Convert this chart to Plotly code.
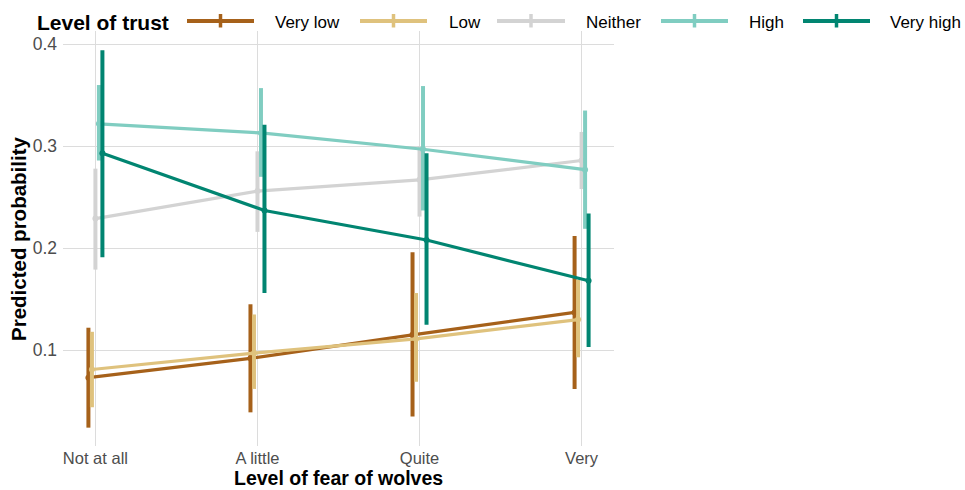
import plotly.graph_objects as go

# ---- data ----
categories = ["Not at all", "A little", "Quite", "Very"]
trust_levels = ["Very low", "Low", "Neither", "High", "Very high"]

very_low = [0.073, 0.092, 0.115, 0.137]
very_low_lo = [0.024, 0.039, 0.035, 0.062]
very_low_hi = [0.122, 0.145, 0.196, 0.212]

low = [0.081, 0.097, 0.111, 0.130]
low_lo = [0.044, 0.062, 0.069, 0.093]
low_hi = [0.118, 0.135, 0.156, 0.169]

neither = [0.229, 0.256, 0.267, 0.286]
neither_lo = [0.179, 0.216, 0.231, 0.258]
neither_hi = [0.278, 0.295, 0.300, 0.314]

high = [0.322, 0.313, 0.297, 0.277]
high_lo = [0.286, 0.270, 0.237, 0.219]
high_hi = [0.360, 0.357, 0.359, 0.335]

very_high = [0.293, 0.237, 0.208, 0.168]
very_high_lo = [0.191, 0.156, 0.125, 0.103]
very_high_hi = [0.394, 0.321, 0.293, 0.234]

y_ticks = [0.1, 0.2, 0.3, 0.4]

# ---- style ----
colors = ["#A6611A", "#DFC27D", "#D3D3D3", "#80CDC1", "#018571"]
dodge = 0.0216
FONT = "Liberation Sans, Arial, sans-serif"

series = [
    (very_low, very_low_lo, very_low_hi),
    (low, low_lo, low_hi),
    (neither, neither_lo, neither_hi),
    (high, high_lo, high_hi),
    (very_high, very_high_lo, very_high_hi),
]

fig = go.Figure()
for i, (name, (est, lo, hi)) in enumerate(zip(trust_levels, series)):
    off = (i - 2) * dodge
    xs = [k + off for k in range(len(categories))]
    fig.add_trace(go.Scatter(
        x=xs, y=est, name=name, mode="lines+markers",
        line=dict(color=colors[i], width=3.2),
        marker=dict(color=colors[i], size=6),
        error_y=dict(type="data", symmetric=False,
                     array=[h - e for h, e in zip(hi, est)],
                     arrayminus=[e - l for e, l in zip(est, lo)],
                     color=colors[i], thickness=4, width=0),
        showlegend=False,
    ))

# plot area in pixels
L, R, T, B = 63, 614, 31, 446
W, H = 965, 490


def px(x):
    return (x - L) / (R - L)


def py(y):
    return (B - y) / (B - T)


shapes = []
annotations = []
annotations.append(dict(text="<b>Level of trust</b>", x=px(35), y=py(22),
                        xref="paper", yref="paper", xanchor="left", yanchor="middle",
                        showarrow=False, font=dict(size=21, color="black", family=FONT)))
annotations.append(dict(text="<b>Level of fear of wolves</b>", x=px(338), y=py(490),
                        xref="paper", yref="paper", xanchor="center", yanchor="bottom",
                        borderpad=0,
                        showarrow=False, font=dict(size=19.5, color="black", family=FONT)))
annotations.append(dict(text="<b>Predicted probability</b>", x=px(19), y=py(239),
                        xref="paper", yref="paper", xanchor="center", yanchor="middle",
                        textangle=-90,
                        showarrow=False, font=dict(size=20.5, color="black", family=FONT)))
leg_lines = [(187, 254, 273), (360, 427, 447), (497, 565, 584), (661, 728, 747), (803, 870, 888)]
for i, (x0, x1, tx) in enumerate(leg_lines):
    shapes.append(dict(type="line", xref="paper", yref="paper",
                       x0=px(x0), x1=px(x1), y0=py(21), y1=py(21),
                       line=dict(color=colors[i], width=4)))
    xc = (x0 + x1) / 2
    shapes.append(dict(type="line", xref="paper", yref="paper",
                       x0=px(xc), x1=px(xc), y0=py(14), y1=py(27.5),
                       line=dict(color=colors[i], width=3.5)))
    annotations.append(dict(text=trust_levels[i], x=px(tx), y=py(22),
                            xref="paper", yref="paper", xanchor="left", yanchor="middle",
                            showarrow=False, font=dict(size=17, color="black", family=FONT)))

fig.update_layout(
    width=W, height=H,
    margin=dict(l=L, r=W - R, t=T, b=H - B, autoexpand=False),
    plot_bgcolor="white", paper_bgcolor="white",
    font=dict(family=FONT, color="#4D4D4D", size=17.5),
    shapes=shapes, annotations=annotations,
    xaxis=dict(range=[-0.2, 3.2], tickvals=list(range(len(categories))), ticktext=categories,
               showgrid=True, gridcolor="#DCDCDC", gridwidth=1.3, zeroline=False,
               showline=False, ticks="", ticklabelstandoff=0, automargin=False,
               tickfont=dict(size=16.5, color="#4D4D4D")),
    yaxis=dict(range=[0.006, 0.413], tickvals=y_ticks, ticktext=[str(v) for v in y_ticks],
               showgrid=True, gridcolor="#DCDCDC", gridwidth=1.3, zeroline=False,
               showline=False, ticks="", ticklabelstandoff=5, automargin=False,
               tickfont=dict(size=17.5, color="#4D4D4D")),
)

fig.write_html(
    "out.html",
    config={"displayModeBar": False},
    post_script="document.body.style.margin='0';document.body.style.overflow='hidden';"
                "document.documentElement.style.overflow='hidden';",
)
